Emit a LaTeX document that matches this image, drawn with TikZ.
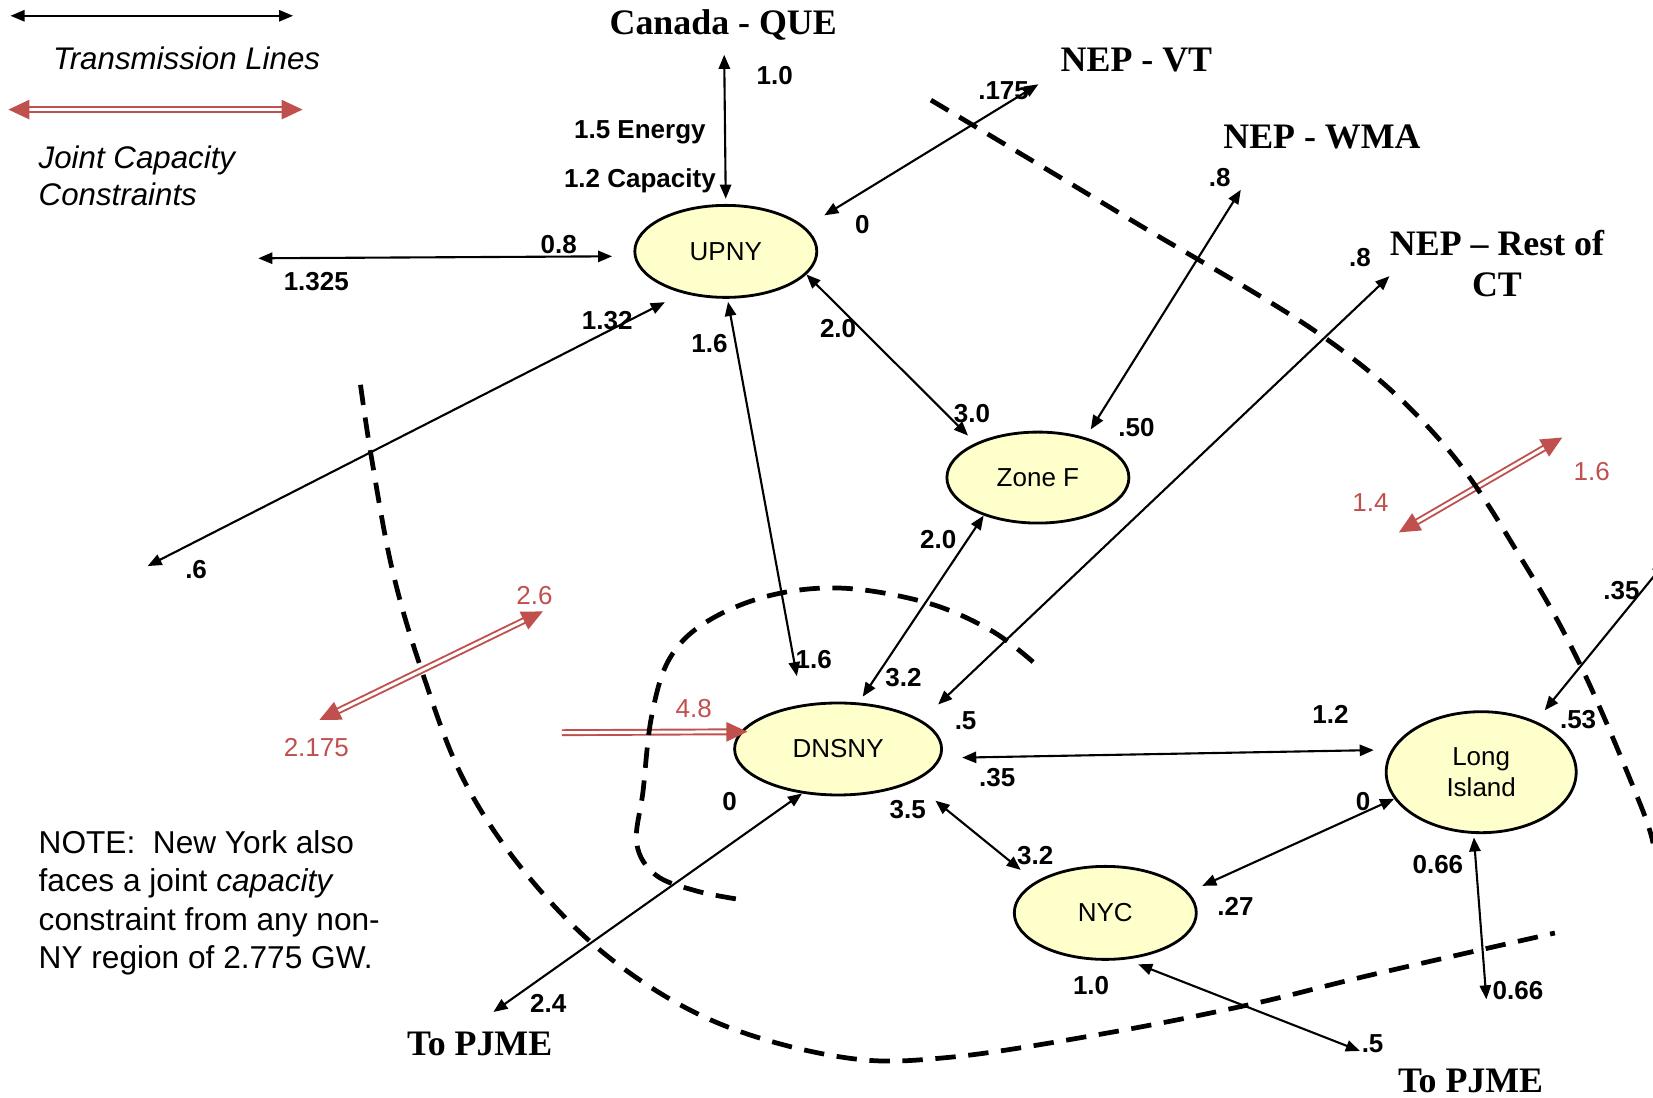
\documentclass[tikz,border=0pt]{standalone}
\usepackage{fontspec}
\setmainfont{Liberation Serif}
\setsansfont{Liberation Sans}
\usetikzlibrary{shapes.geometric, arrows.meta}

\definecolor{zoneyel}{HTML}{FFFFCC}
\definecolor{jred}{HTML}{C0504D}

\begin{document}
\begin{tikzpicture}[
  zone/.style={ellipse,draw,fill=zoneyel,line width=0.8pt,inner sep=0pt,align=center,
               font=\sffamily\fontsize{7.4}{9}\selectfont},
  tline/.style={{Triangle[length=4pt,width=3.2pt]}-{Triangle[length=4pt,width=3.2pt]},line width=0.6pt},
  jcap/.style={draw=jred,double=white,double distance=0.85pt,line width=0.55pt},
  jboth/.style={jcap,{Triangle[length=6pt,width=5.5pt]}-{Triangle[length=6pt,width=5.5pt]}},
  jone/.style={jcap,-{Triangle[length=6pt,width=5.5pt]}},
  num/.style={inner sep=1pt,font=\sffamily\bfseries\fontsize{7.4}{9}\selectfont},
  rnum/.style={inner sep=1pt,text=jred,font=\sffamily\fontsize{7.4}{9}\selectfont},
  place/.style={inner sep=1pt,align=center,font=\rmfamily\bfseries\fontsize{10.2}{11.5}\selectfont},
  legend/.style={inner sep=0pt,align=left,font=\sffamily\fontsize{8.9}{10.6}\selectfont},
  cut/.style={line width=1.35pt,dash pattern=on 5.8pt off 3.6pt}
]
  \useasboundingbox (0,0) rectangle (16.53,-10.98);

  % zones
  \node[zone,minimum width=1.82cm,minimum height=0.92cm] (upny)  at (7.258,-2.514) {UPNY};
  \node[zone,minimum width=1.82cm,minimum height=0.91cm] (zonef) at (10.379,-4.776) {Zone F};
  \node[zone,minimum width=2.07cm,minimum height=0.92cm] (dnsny) at (8.381,-7.490) {DNSNY};
  \node[zone,minimum width=1.90cm,minimum height=1.21cm] (li)    at (14.812,-7.722) {Long\\Island};
  \node[zone,minimum width=1.82cm,minimum height=0.93cm] (nyc)   at (11.053,-9.129) {NYC};

  % outside regions
  \node[place] (canada) at (7.232,-0.253) {Canada - QUE};
  \node[place] (nepvt)  at (11.364,-0.601) {NEP - VT};
  \node[place] (nepwma) at (13.220,-1.370) {NEP - WMA};
  \node[place] (nepct)  at (14.970,-2.636) {NEP -- Rest of\\CT};
  \node[place] (pjmel)  at (4.797,-10.437) {To PJME};
  \node[place] (pjmer)  at (14.706,-10.806) {To PJME};

  % free ends
  \coordinate (que)     at (7.242,-0.548);
  \coordinate (vt)      at (10.384,-0.843);
  \coordinate (wma)     at (12.408,-1.898);
  \coordinate (restct)  at (13.894,-2.762);
  \coordinate (west)    at (2.583,-2.583);
  \coordinate (sw)      at (1.476,-5.661);
  \coordinate (liext)   at (16.656,-5.619);
  \coordinate (lisouth) at (14.864,-9.994);
  \coordinate (tpjmer)  at (13.599,-10.510);
  \coordinate (tpjmel)  at (4.934,-10.120);

  % transmission lines
  \draw[tline,shorten >=1.5pt] (que) -- (upny.90);
  \draw[tline,shorten >=6.4pt] (vt) -- (upny.17);
  \draw[tline,shorten >=6.2pt] (west) -- (upny.183);
  \draw[tline,shorten >=5.6pt] (sw) -- (upny.224);
  \draw[tline,shorten <=0.9pt,shorten >=8.2pt] (upny.272) -- (dnsny.129);
  \draw[tline,shorten >=3pt] (upny.-16) -- (zonef.151);
  \draw[tline,shorten >=2.7pt] (wma) -- (zonef.40);
  \draw[tline,shorten >=6.5pt] (restct) -- (dnsny.19);
  \draw[tline,shorten >=2pt] (zonef.215) -- (dnsny.66);
  \draw[tline,shorten <=6pt,shorten >=5pt] (dnsny.-5) -- (li.166);
  \draw[tline,shorten >=4pt] (liext) -- (li.43);
  \draw[tline,shorten <=8.3pt,shorten >=5.3pt] (dnsny.-24) -- (nyc.156);
  \draw[tline,shorten <=4.3pt] (nyc.14) -- (li.197);
  \draw[tline,shorten <=1pt] (li.263) -- (lisouth);
  \draw[tline,shorten <=3.7pt] (nyc.-66) -- (tpjmer);
  \draw[tline] (dnsny.231) -- (tpjmel);

  % limits
  \node[num] (v1)  at (7.748,-0.759) {1.0};
  \node[num] (v2)  at (6.399,-1.328) {1.5 Energy};
  \node[num] (v3)  at (6.399,-1.803) {1.2 Capacity};
  \node[num] (v4)  at (10.036,-0.907) {.175};
  \node[num] (v5)  at (8.623,-2.245) {0};
  \node[num] (v6)  at (5.587,-2.446) {0.8};
  \node[num] (v7)  at (3.163,-2.815) {1.325};
  \node[num] (v8)  at (6.072,-3.205) {1.32};
  \node[num] (v9)  at (1.961,-5.693) {.6};
  \node[num] (v10) at (7.095,-3.437) {1.6};
  \node[num] (v11) at (8.381,-3.289) {2.0};
  \node[num] (v12) at (9.720,-4.132) {3.0};
  \node[num] (v13) at (12.197,-1.771) {.8};
  \node[num] (v14) at (11.364,-4.280) {.50};
  \node[num] (v15) at (13.599,-2.572) {.8};
  \node[num] (v16) at (9.382,-5.398) {2.0};
  \node[num] (v17) at (8.138,-6.599) {1.6};
  \node[num] (v18) at (9.034,-6.778) {3.2};
  \node[num] (v19) at (9.656,-7.211) {.5};
  \node[num] (v20) at (13.304,-7.147) {1.2};
  \node[num] (v21) at (9.973,-7.780) {.35};
  \node[num] (v22) at (16.214,-5.904) {.35};
  \node[num] (v23) at (15.781,-7.200) {.53};
  \node[num] (v24) at (7.295,-8.012) {0};
  \node[num] (v25) at (9.077,-8.096) {3.5};
  \node[num] (v26) at (10.352,-8.560) {3.2};
  \node[num] (v27) at (13.631,-8.012) {0};
  \node[num] (v28) at (14.379,-8.644) {0.66};
  \node[num] (v29) at (12.355,-9.066) {.27};
  \node[num] (v30) at (10.911,-9.857) {1.0};
  \node[num] (v31) at (15.180,-9.909) {0.66};
  \node[num] (v32) at (5.482,-10.036) {2.4};
  \node[num] (v33) at (13.726,-10.437) {.5};

  % joint capacity constraints
  \coordinate (jl1) at (5.429,-6.114);
  \coordinate (jl2) at (3.194,-7.200);
  \coordinate (jr1) at (15.623,-4.375);
  \coordinate (jr2) at (13.989,-5.324);
  \coordinate (jin) at (5.619,-7.327);
  \draw[jboth] (jl1) -- (jl2);
  \draw[jboth] (jr1) -- (jr2);
  \draw[jone,shorten >=-2pt] (jin) -- (dnsny.170);
  \node[rnum] (r1) at (5.345,-5.956) {2.6};
  \node[rnum] (r2) at (3.163,-7.474) {2.175};
  \node[rnum] (r3) at (15.918,-4.712) {1.6};
  \node[rnum] (r4) at (13.705,-5.029) {1.4};
  \node[rnum] (r5) at (6.937,-7.084) {4.8};

  % interface cuts
  \draw[cut] plot[smooth,tension=0.6] coordinates {(9.309,-1.001) (11.280,-2.182) (13.272,-3.395)
    (14.432,-4.438) (15.265,-5.672) (15.834,-6.715) (16.403,-8.044) (16.530,-8.434)};
  \draw[cut] plot[smooth,tension=0.6] coordinates {(3.605,-3.848) (3.711,-4.554) (3.922,-5.693)
    (4.217,-6.705) (4.638,-7.801) (5.271,-8.750) (6.114,-9.593) (7.169,-10.226) (8.434,-10.574)
    (9.488,-10.574) (11.069,-10.331) (12.492,-10.047) (13.705,-9.751) (15.549,-9.330)};
  \draw[cut] plot[smooth,tension=0.6] coordinates {(10.331,-6.620) (9.909,-6.304) (9.277,-6.030)
    (8.434,-5.882) (7.696,-5.956) (7.063,-6.220) (6.694,-6.589) (6.515,-7.169) (6.431,-7.907)
    (6.367,-8.434) (6.557,-8.750) (6.958,-8.908) (7.379,-8.992)};

  % legend
  \coordinate (lega) at (0.105,-0.158);
  \coordinate (legb) at (2.931,-0.158);
  \coordinate (legc) at (0.084,-1.096);
  \coordinate (legd) at (3.026,-1.096);
  \draw[tline] (lega) -- (legb);
  \draw[jboth] (legc) -- (legd);
  \node[legend,font=\sffamily\itshape\fontsize{8.9}{10.6}\selectfont] (legtl) at (1.866,-0.580) {Transmission Lines};
  \node[legend,anchor=west,font=\sffamily\itshape\fontsize{8.9}{10.6}\selectfont] (legjc) at (0.380,-1.761) {Joint Capacity\\Constraints};
  \node[legend,anchor=west,font=\sffamily\fontsize{9}{10.9}\selectfont] (note) at (0.380,-9.029)
    {NOTE:\ \ New York also\\faces a joint \textit{capacity}\\constraint from any non-\\NY region of 2.775 GW.};
\end{tikzpicture}
\end{document}
